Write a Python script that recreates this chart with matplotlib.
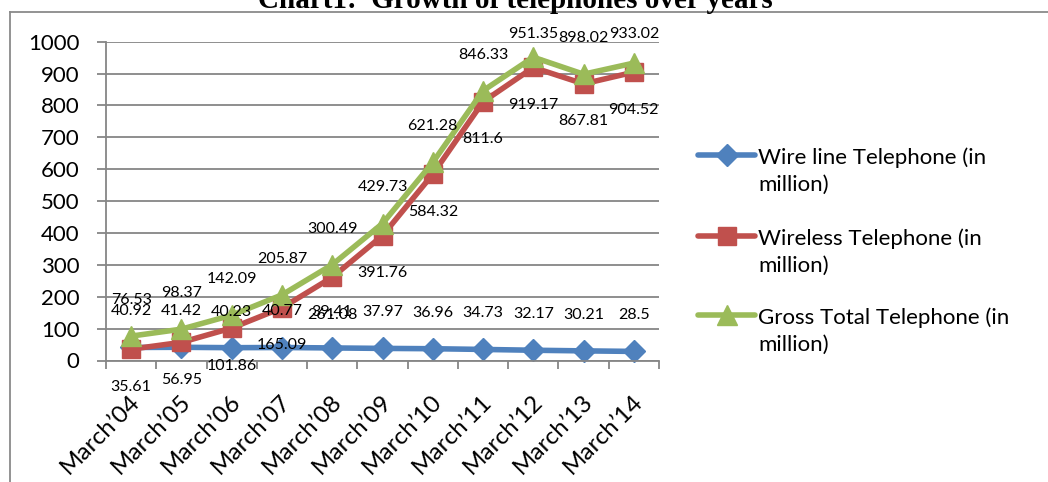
import numpy as np
import matplotlib.pyplot as plt
from matplotlib.lines import Line2D
from matplotlib.transforms import ScaledTranslation

years = ["March’04", "March’05", "March’06", "March’07", "March’08", "March’09",
         "March’10", "March’11", "March’12", "March’13", "March’14"]
wireline = [40.92, 41.42, 40.23, 40.77, 39.41, 37.97, 36.96, 34.73, 32.17, 30.21, 28.5]
wireless = [35.61, 56.95, 101.86, 165.09, 261.08, 391.76, 584.32, 811.6, 919.17, 867.81, 904.52]
gross = [76.53, 98.37, 142.09, 205.87, 300.49, 429.73, 621.28, 846.33, 951.35, 898.02, 933.02]

names = ["Wire line Telephone (in\nmillion)", "Wireless Telephone (in\nmillion)",
         "Gross Total Telephone (in\nmillion)"]
colors = ["#4F81BD", "#C0504D", "#9BBB59"]
markers = ["D", "s", "^"]
msizes = [11, 13, 14.5]
lab_off = [26, -27, 26]   # data label offset in points (+ above, - below)

plt.rcParams['font.family'] = ['Lato', 'DejaVu Sans']
W, H = 1048, 482
fig = plt.figure(figsize=(W / 100, H / 100), dpi=100)
ax = fig.add_axes([106 / W, 1 - 360.5 / H, (659 - 106) / W, (360.5 - 41.7) / H])

x = np.arange(len(years))
grid_c = "#868686"
ax.set_xlim(-0.5, len(years) - 0.5)
ax.set_ylim(0, 1000)
ax.set_yticks(range(0, 1001, 100))
ax.grid(axis='y', color=grid_c, lw=1.3)
ax.set_axisbelow(True)
for s in ['top', 'right']:
    ax.spines[s].set_visible(False)
for s in ['left', 'bottom']:
    ax.spines[s].set_color(grid_c)
    ax.spines[s].set_linewidth(1.3)
ax.tick_params(axis='y', length=6.5, width=1.3, color=grid_c, labelsize=16, pad=12.5)

# category labels sit at the points, tick marks between categories
ax.set_xticks(x)
ax.set_xticklabels(years, rotation=45, ha='right', va='center', rotation_mode='anchor')
ax.tick_params(axis='x', which='major', length=0, labelsize=17.5, pad=27)
ax.set_xticks(np.arange(-0.5, len(years)), minor=True)
ax.tick_params(axis='x', which='minor', length=5.5, width=1.3, color=grid_c)
for lab in ax.get_xticklabels():
    lab.set_transform(lab.get_transform() + ScaledTranslation(4 / 72, 0, fig.dpi_scale_trans))

top_lim = H - 34  # labels cannot go above this (pixels from bottom)
for vals, c, m, ms, off in zip([wireline, wireless, gross], colors, markers, msizes, lab_off):
    ax.plot(x, vals, color=c, lw=4, marker=m, ms=ms, mfc=c, mec=c, clip_on=False)
    for xi, v in zip(x, vals):
        py = ax.transData.transform((xi, v))[1]
        o = off
        if off > 0:
            o = min(off, (top_lim - py) * 72 / fig.dpi)
        ax.annotate(f"{v:g}", (xi, v), xytext=(0, o), textcoords='offset points',
                    ha='center', va='center', fontsize=11.5, color='black')

# title, cut by the top edge
fig.text(0.492, 1 - 8 / H, "Chart1:  Growth of telephones over years",
         family=['Liberation Serif'], weight='bold', fontsize=21, ha='center', va='baseline')

# chart border
fig.add_artist(Line2D([10 / W, 10 / W], [0, 1 - 12 / H], color="#8a8a8a", lw=1.3))
fig.add_artist(Line2D([10 / W, 1], [1 - 12 / H, 1 - 12 / H], color="#8a8a8a", lw=1.3))

# legend
for name, c, m, ms, ypx in zip(names, colors, markers, msizes, [155, 236, 315]):
    yf = 1 - ypx / H
    fig.add_artist(Line2D([698 / W, 755 / W], [yf, yf], color=c, lw=4,
                          solid_capstyle='round'))
    fig.add_artist(Line2D([726.5 / W], [yf], color=c, marker=m, ms=ms, mfc=c, mec=c))
    fig.text(758 / W, 1 - (ypx + 16) / H, name, fontsize=16, va='center',
             linespacing=1.43)

fig.savefig("out.png", dpi=100)
